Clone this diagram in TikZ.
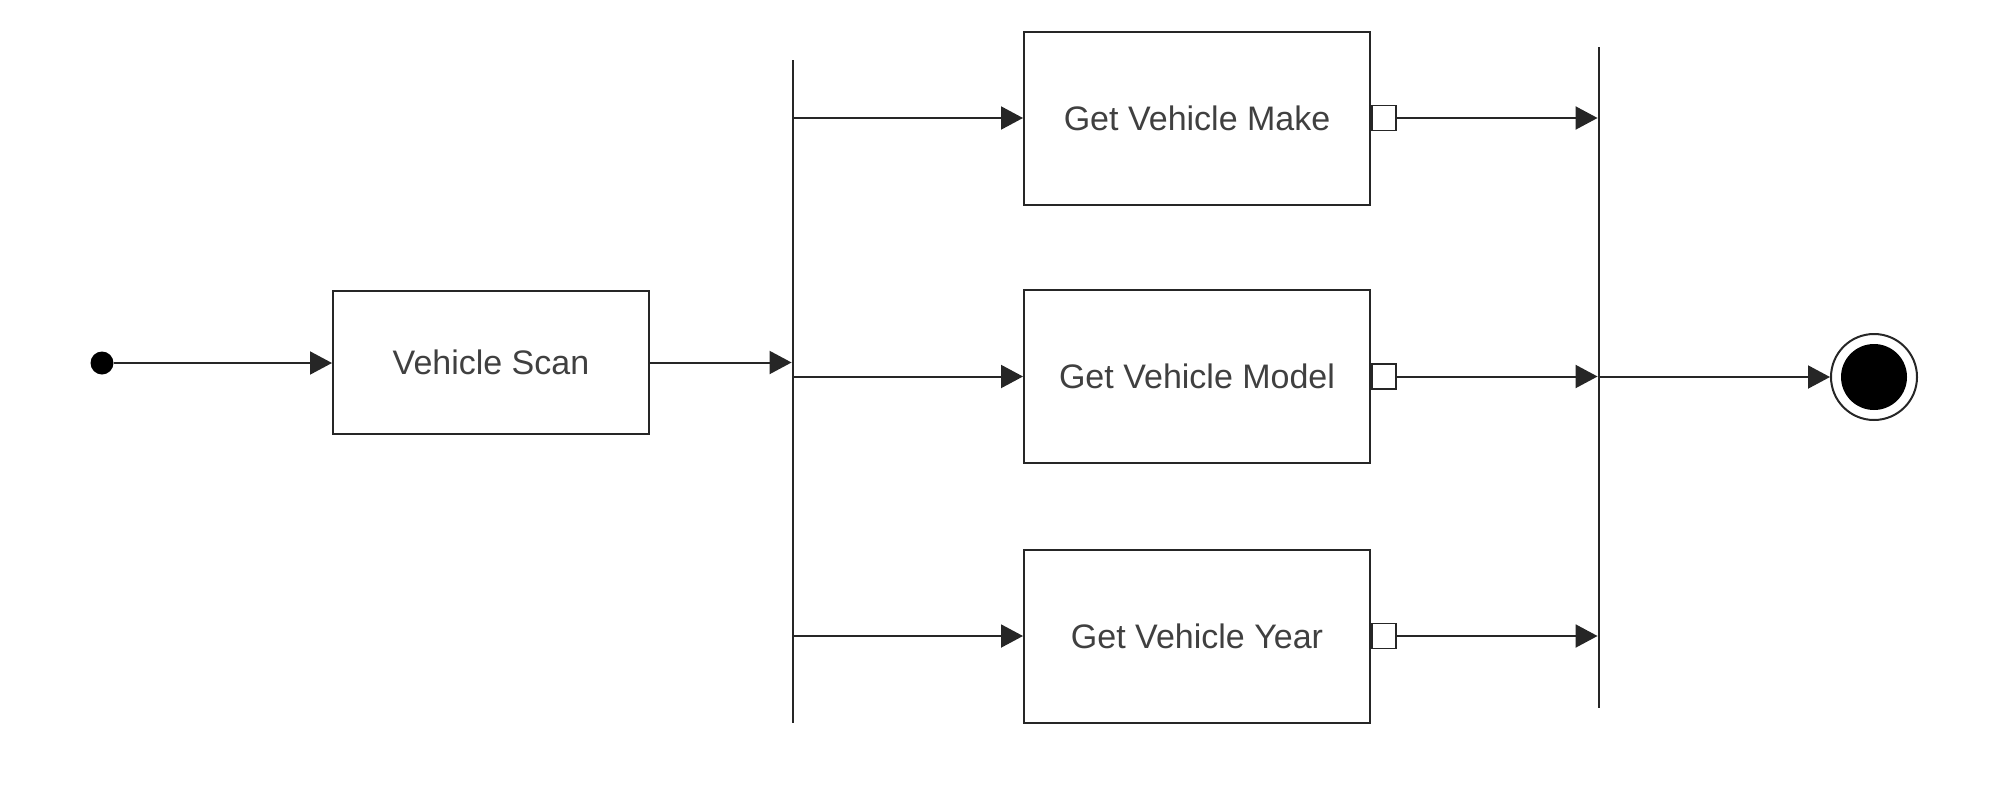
\documentclass[tikz,border=0pt]{standalone}
\usepackage{fontspec}
\setmainfont{Liberation Sans}
\usetikzlibrary{arrows.meta,positioning}

\tikzset{
  action/.style={draw=black!85, line width=2pt, minimum width=346pt, minimum height=173pt, inner sep=0pt, text=black!75, font=\fontsize{34}{40}\selectfont},
  bar/.style={fill=black!85, minimum width=2.5pt, inner sep=0pt},
  pinbox/.style={draw=black!85, fill=white, line width=1.5pt, minimum width=24pt, minimum height=25pt, inner sep=0pt},
  flow/.style={draw=black!85, line width=2pt, -{Triangle[length=22pt,width=23pt]}},
}

\begin{document}
\begin{tikzpicture}[x=1pt,y=-1pt]
\useasboundingbox (0,0) rectangle (2013,790);

\node [circle, fill=black, minimum size=23pt, inner sep=0pt] (start) at (102,363) {};
\node [action, minimum width=316pt, minimum height=143pt] (scan) at (491,362.5) {Vehicle Scan};
\node [bar, minimum height=663pt] (fork) at (793,391.5) {};

\node [action] (make) at (1197,118) {Get Vehicle Make};
\node [action] (model) at (1197,376.5) {Get Vehicle Model};
\node [action] (year) at (1197,636) {Get Vehicle Year};
\node [pinbox, right=0pt of make] (makepin) {};
\node [pinbox, right=0pt of model] (modelpin) {};
\node [pinbox, right=0pt of year] (yearpin) {};

\node [bar, minimum height=661pt] (join) at (1599,377.5) {};
\node [circle, draw=black!85, line width=2pt, minimum size=86pt, inner sep=0pt] (stop) at (1874,377) {};
\node [circle, fill=black, minimum size=66pt, inner sep=0pt] (stopdot) at (stop) {};

\draw [flow] (start.east) -- (start.east -| scan.west);
\draw [flow] (scan.east) -- (scan.east -| fork.west);
\draw [flow] (fork.east |- make) -- (make.west);
\draw [flow] (fork.east |- model) -- (model.west);
\draw [flow] (fork.east |- year) -- (year.west);
\draw [flow] (makepin.east) -- (makepin.east -| join.west);
\draw [flow] (modelpin.east) -- (modelpin.east -| join.west);
\draw [flow] (yearpin.east) -- (yearpin.east -| join.west);
\draw [flow] (join.east |- stop) -- (stop.west);
\end{tikzpicture}
\end{document}
